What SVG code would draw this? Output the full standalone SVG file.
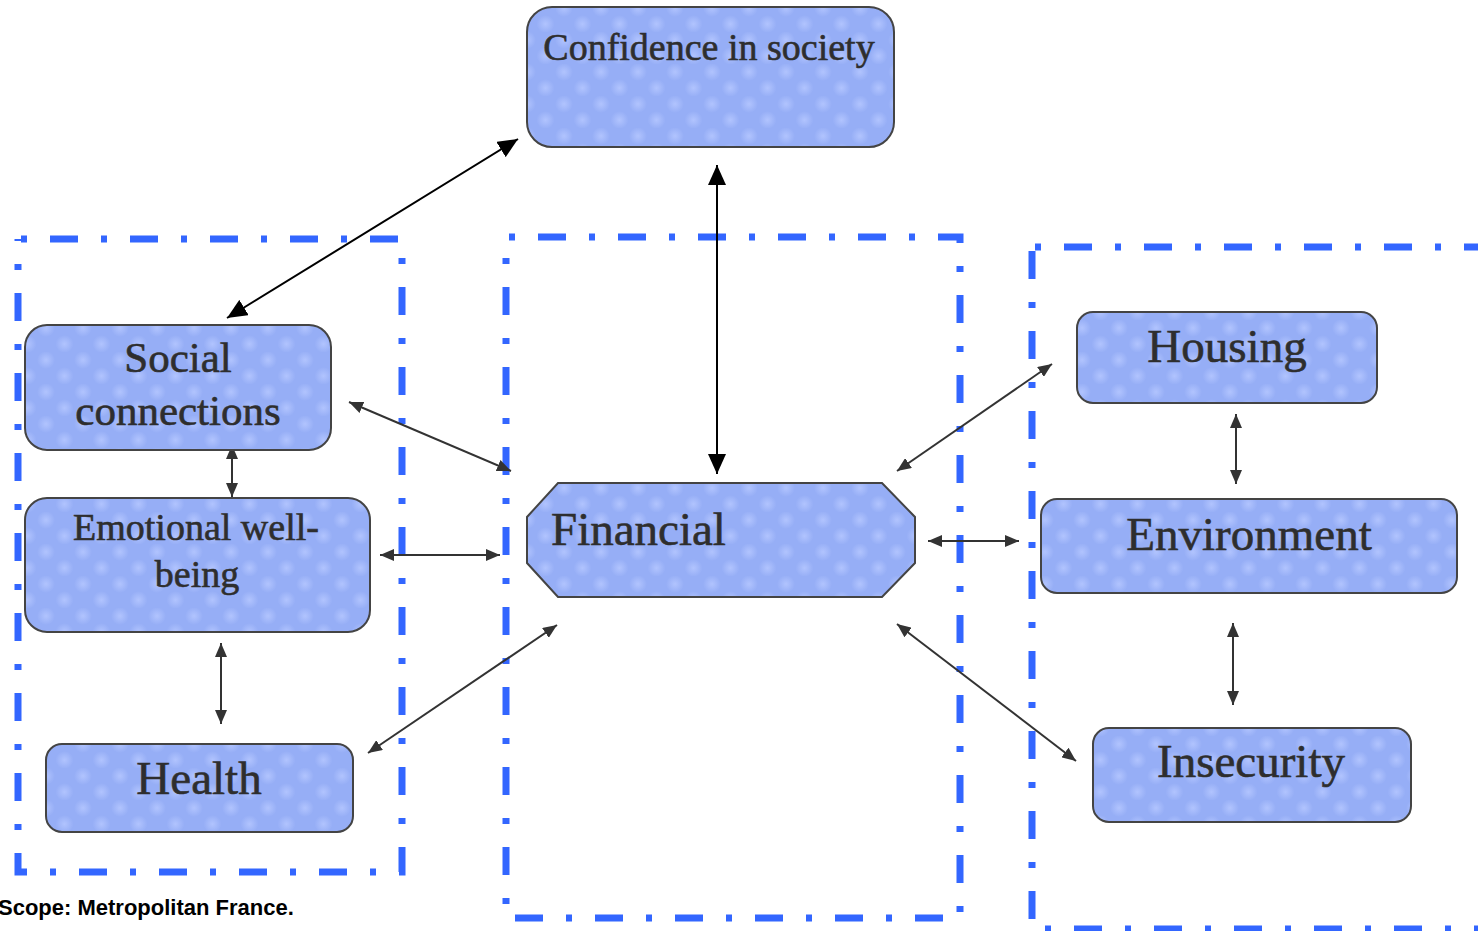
<svg xmlns="http://www.w3.org/2000/svg" width="1478" height="931" viewBox="0 0 1478 931">
  <defs>
    <radialGradient id="spot">
      <stop offset="0" stop-color="#b4c6ff" stop-opacity="0.9"/>
      <stop offset="1" stop-color="#b4c6ff" stop-opacity="0"/>
    </radialGradient>
    <pattern id="tex" patternUnits="userSpaceOnUse" width="37" height="32">
      <rect width="37" height="32" fill="#96aef6"/>
      <circle cx="9" cy="8" r="9" fill="url(#spot)"/>
      <circle cx="27.5" cy="24" r="9" fill="url(#spot)"/>
    </pattern>
    <marker id="bigHead" viewBox="0 0 20 18" refX="20" refY="9" markerWidth="20" markerHeight="18" markerUnits="userSpaceOnUse" orient="auto-start-reverse">
      <path d="M0,0 L20,9 L0,18 z" fill="#000"/>
    </marker>
    <marker id="smallHead" viewBox="0 0 14 12" refX="14" refY="6" markerWidth="14" markerHeight="12" markerUnits="userSpaceOnUse" orient="auto-start-reverse">
      <path d="M0,0 L14,6 L0,12 z" fill="#333"/>
    </marker>
  </defs>
  <style>
    .frame { fill: none; stroke: #3366ff; stroke-width: 7; stroke-dasharray: 28 23 6 23; stroke-dashoffset: 48; }
    .node { fill: url(#tex); stroke: #444; stroke-width: 2; }
    .lbl { font-family: "Liberation Serif", "Times New Roman", serif; fill: #2e2e2e; stroke: #2e2e2e; stroke-width: 0.6; }
    .big { stroke: #000; stroke-width: 2; fill: none; marker-start: url(#bigHead); marker-end: url(#bigHead); }
    .small { stroke: #333; stroke-width: 2; fill: none; marker-start: url(#smallHead); marker-end: url(#smallHead); }
    .note { font-family: "Liberation Sans", Arial, sans-serif; font-weight: bold; font-size: 22px; fill: #000; }
  </style>
  <rect width="1478" height="931" fill="#fff"/>

  <g id="frames">
    <rect class="frame" x="18" y="239" width="384" height="633"/>
    <rect class="frame" x="506" y="237" width="454" height="681"/>
    <rect class="frame" x="1032" y="247" width="470" height="682"/>
  </g>

  <g id="connectors">
    <line class="big" x1="518" y1="139" x2="227" y2="318"/>
    <line class="big" x1="717" y1="165" x2="717" y2="474"/>
    <line class="small" x1="349" y1="402" x2="511" y2="471"/>
    <line class="small" x1="232" y1="445" x2="232" y2="497"/>
    <line class="small" x1="380" y1="555" x2="500" y2="555"/>
    <line class="small" x1="221" y1="643" x2="221" y2="724"/>
    <line class="small" x1="368" y1="753" x2="557" y2="625"/>
    <line class="small" x1="897" y1="471" x2="1052" y2="364"/>
    <line class="small" x1="928" y1="541" x2="1019" y2="541"/>
    <line class="small" x1="897" y1="624" x2="1076" y2="761"/>
    <line class="small" x1="1236" y1="414" x2="1236" y2="484"/>
    <line class="small" x1="1233" y1="623" x2="1233" y2="705"/>
  </g>

  <g id="confidence">
    <rect class="node" x="527" y="7" width="367" height="140" rx="25"/>
    <text class="lbl" x="709" y="60" font-size="38" text-anchor="middle">Confidence in society</text>
  </g>
  <g id="social">
    <rect class="node" x="25" y="325" width="306" height="125" rx="22"/>
    <text class="lbl" x="178" y="372" font-size="43" text-anchor="middle">Social</text>
    <text class="lbl" x="178" y="425" font-size="43" text-anchor="middle">connections</text>
  </g>
  <g id="emotional">
    <rect class="node" x="25" y="498" width="345" height="134" rx="22"/>
    <text class="lbl" x="196" y="540" font-size="38" text-anchor="middle">Emotional well-</text>
    <text class="lbl" x="197" y="587" font-size="38" text-anchor="middle">being</text>
  </g>
  <g id="health">
    <rect class="node" x="46" y="744" width="307" height="88" rx="16"/>
    <text class="lbl" x="199" y="794" font-size="47" text-anchor="middle">Health</text>
  </g>
  <g id="financial">
    <polygon class="node" points="558,483 882,483 915,517 915,563 882,597 558,597 527,563 527,517"/>
    <text class="lbl" x="551" y="545" font-size="47">Financial</text>
  </g>
  <g id="housing">
    <rect class="node" x="1077" y="312" width="300" height="91" rx="16"/>
    <text class="lbl" x="1227" y="362" font-size="47" text-anchor="middle">Housing</text>
  </g>
  <g id="environment">
    <rect class="node" x="1041" y="499" width="416" height="94" rx="16"/>
    <text class="lbl" x="1249" y="550" font-size="47" text-anchor="middle">Environment</text>
  </g>
  <g id="insecurity">
    <rect class="node" x="1093" y="728" width="318" height="94" rx="16"/>
    <text class="lbl" x="1251" y="777" font-size="47" text-anchor="middle">Insecurity</text>
  </g>

  <text class="note" x="-2" y="915">Scope: Metropolitan France.</text>
</svg>
